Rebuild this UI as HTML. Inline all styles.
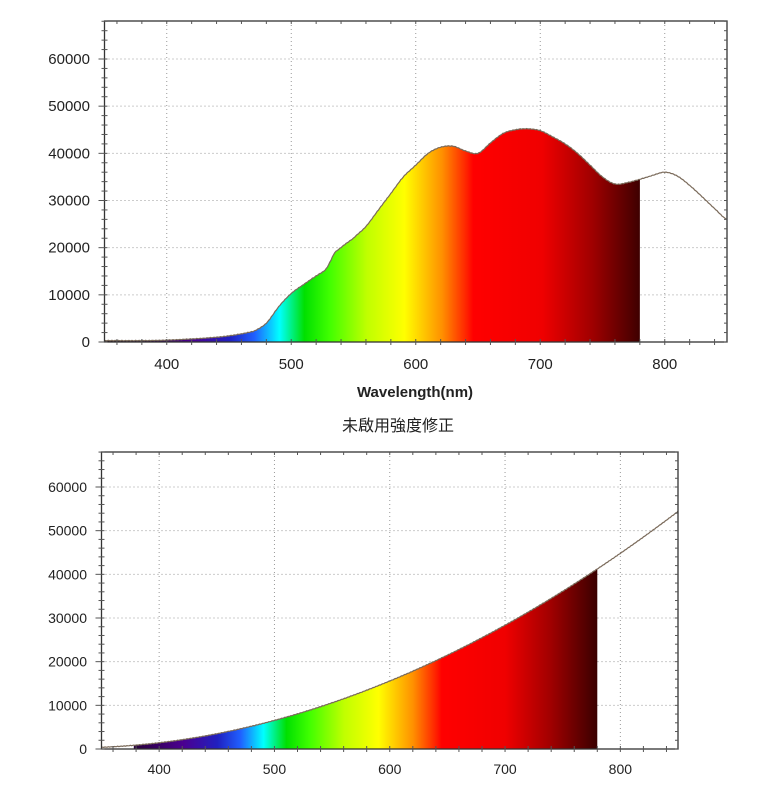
<!DOCTYPE html>
<html><head><meta charset="utf-8">
<style>
html,body{margin:0;padding:0;background:#fff;}
svg{display:block;}
text{font-family:"Liberation Sans","Noto Sans CJK TC",sans-serif;fill:#222;}
</style></head>
<body>
<svg id="s" width="765" height="785" xmlns="http://www.w3.org/2000/svg">
<defs>
<linearGradient id="g1" gradientUnits="userSpaceOnUse" x1="104.5" y1="0" x2="729.5" y2="0"></linearGradient>
<linearGradient id="g2" gradientUnits="userSpaceOnUse" x1="102.5" y1="0" x2="677.5" y2="0"></linearGradient>
</defs>
<g id="c1"></g><g id="c2"></g>
<text x="415" y="397" text-anchor="middle" font-size="15" font-weight="bold">Wavelength(nm)</text>
<text x="398" y="431" text-anchor="middle" font-size="16">未啟用強度修正</text>
</svg>
<script>
var NS="http://www.w3.org/2000/svg";
function el(p,t,a,txt){var e=document.createElementNS(NS,t);for(var k in a)e.setAttribute(k,a[k]);if(txt!=null)e.textContent=txt;p.appendChild(e);return e;}
var stops=[[350,"#1a0010"],[380,"#2a0040"],[420,"#4b0090"],[450,"#2020c0"],[470,"#2060ff"],[490,"#00ffff"],[510,"#00e000"],[530,"#40ff00"],[560,"#c0ff00"],[590,"#ffff00"],[620,"#ff9000"],[640,"#ff2000"],[645,"#ff0000"],[700,"#f00000"],[740,"#a00000"],[780,"#3a0000"]];
function grad(id){var g=document.getElementById(id);stops.forEach(function(s){el(g,"stop",{offset:((s[0]-350)/500),"stop-color":s[1]});});}
grad("g1");grad("g2");
function cr(pts,w){for(var i=0;i<pts.length-1;i++){if(w<=pts[i+1][0]){var p0=pts[Math.max(i-1,0)][1],p1=pts[i][1],p2=pts[i+1][1],p3=pts[Math.min(i+2,pts.length-1)][1];var t=(w-pts[i][0])/(pts[i+1][0]-pts[i][0]);
 return 0.5*((2*p1)+(-p0+p2)*t+(2*p0-5*p1+4*p2-p3)*t*t+(-p0+3*p1-3*p2+p3)*t*t*t);}}return pts[pts.length-1][1];}
function chart(gid,L,T,R,B,y60,fillStart,gradId,fn,fs,labX,xlabY){
 var g=document.getElementById(gid);
 var sx=function(w){return L+(w-350)*(R-L)/500;};
 var k=(B-y60)/60000;
 var sy=function(v){return B-v*k;};
 for(var w=400;w<=800;w+=100)el(g,"line",{x1:sx(w),x2:sx(w),y1:T,y2:B,stroke:"#999","stroke-width":1,"stroke-dasharray":"1,3"});
 for(var v=10000;v<=60000;v+=10000)el(g,"line",{x1:L,x2:R,y1:sy(v),y2:sy(v),stroke:"#999","stroke-width":1,"stroke-dasharray":"1,3"});
 var d="M"+sx(fillStart)+","+B;var ln="";
 for(var w=350;w<=850;w+=1){var v=fn(w)+Math.sin(w*2.3)*60;var p=sx(w).toFixed(1)+","+sy(Math.max(v,0)).toFixed(1);
  if(w>=fillStart&&w<=780)d+=" L"+p; ln+=(w==350?"M":" L")+p;}
 d+=" L"+sx(780)+","+B+" Z";
 el(g,"path",{d:d,fill:"url(#"+gradId+")"});
 el(g,"path",{d:ln,fill:"none",stroke:"#7a6a5a","stroke-width":1.2});
 el(g,"rect",{x:L,y:T,width:R-L,height:B-T,fill:"none",stroke:"#333","stroke-width":1.3});
 for(var v=0;v*k<=B-T;v+=2000){var y=sy(v),big=v%10000==0;el(g,"line",{x1:L-(big?6:3),x2:L+3,y1:y,y2:y,stroke:"#555","stroke-width":1});el(g,"line",{x1:R-3,x2:R,y1:y,y2:y,stroke:"#555","stroke-width":1});
  if(big)el(g,"text",{x:labX,y:y+5,"text-anchor":"end","font-size":fs},String(v));}
 for(var w=360;w<=840;w+=20){var x=sx(w);el(g,"line",{x1:x,x2:x,y1:B-3,y2:B+3,stroke:"#555"});el(g,"line",{x1:x,x2:x,y1:T,y2:T+3,stroke:"#555"});}
 for(var w=400;w<=800;w+=100)el(g,"text",{x:sx(w),y:xlabY,"text-anchor":"middle","font-size":fs},String(w));
}
var d1=[[350,300],[380,300],[400,400],[430,800],[450,1300],[470,2300],[480,4000],[490,7500],[500,10300],[510,12200],[520,14000],[528,15500],[535,19000],[550,22000],[560,24500],[570,28000],[580,31500],[590,35000],[600,37500],[610,40000],[620,41300],[630,41500],[640,40500],[650,40000],[660,42200],[670,44200],[680,45000],[690,45200],[700,44800],[710,43500],[720,42000],[730,40000],[740,37500],[750,35000],[760,33500],[770,33800],[780,34500],[790,35300],[800,36000],[810,35200],[820,33200],[830,30800],[840,28300],[850,26000]];
chart("c1",104.5,21,727,342,59,350,"g1",function(w){return cr(d1,w);},15,90,369);
chart("c2",101.5,452,678,749,487,378,"g2",function(w){return w<330?0:0.31*Math.pow(w-330,1.93)+300;},14,87,774);
</script>
</body></html>
